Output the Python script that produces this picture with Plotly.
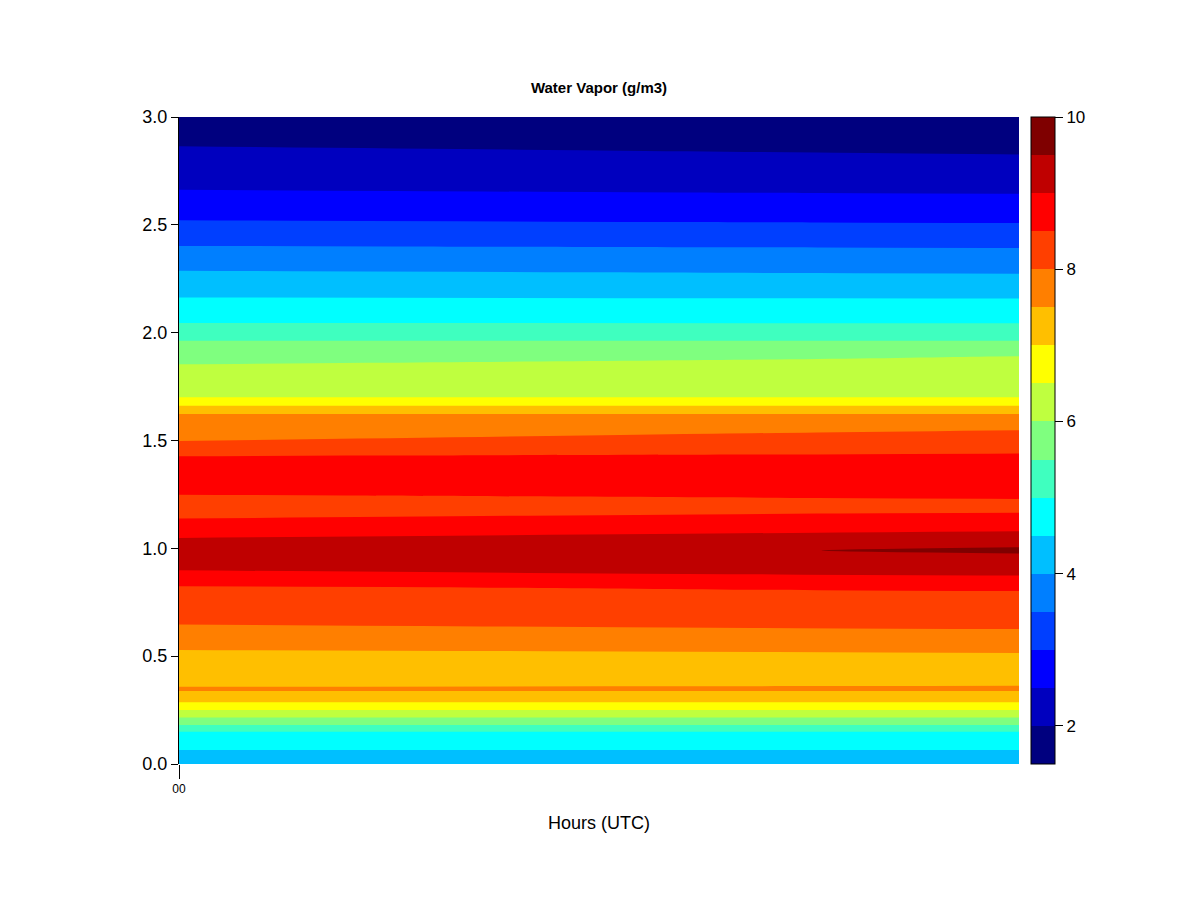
import plotly.graph_objects as go

# ---- data ----
hours = [0.0, 0.76, 1.0]          # relative time position (00 at left)
heights = [0.00, 0.065, 0.150, 0.181, 0.216, 0.250, 0.286, 0.338, 0.348, 0.360,
           0.44, 0.52, 0.63, 0.82, 0.88, 0.97, 0.99, 1.05, 1.14, 1.19,
           1.245, 1.34, 1.43, 1.50, 1.55, 1.623, 1.661, 1.700, 1.78, 1.86,
           1.89, 1.963, 2.045, 2.163, 2.28, 2.40, 2.513, 2.65, 2.845, 3.0]

vapor_start = [4.2, 4.5, 5.0, 5.5, 6.0, 6.5, 7.0, 7.5, 7.56, 7.49,
               7.2, 7.46, 7.955, 8.474, 8.90, 9.40, 9.38, 8.99, 8.49, 8.40,
               8.49, 8.80, 8.49, 7.98, 7.78, 7.5, 7.0, 6.5, 6.24, 5.977,
               5.84, 5.5, 5.0, 4.5, 4.03, 3.51, 3.03, 2.53, 2.05, 1.65]
vapor_mid = [4.2, 4.5, 5.0, 5.5, 6.0, 6.5, 7.0, 7.5, 7.56, 7.505,
             7.2, 7.506, 8.003, 8.54, 9.014, 9.442, 9.498, 9.142, 8.574, 8.40,
             8.528, 8.80, 8.528, 8.178, 7.94, 7.5, 7.0, 6.5, 6.278, 6.055,
             5.965, 5.5, 4.992, 4.485, 3.984, 3.48, 2.992, 2.492, 1.974, 1.612]
vapor_end = [4.2, 4.5, 5.0, 5.5, 6.0, 6.5, 7.0, 7.5, 7.56, 7.51,
             7.2, 7.52, 8.02, 8.55, 9.05, 9.455, 9.60, 9.19, 8.60, 8.40,
             8.54, 8.80, 8.54, 8.24, 7.99, 7.5, 7.0, 6.5, 6.29, 6.08,
             6.005, 5.5, 4.99, 4.48, 3.97, 3.47, 2.98, 2.48, 1.95, 1.60]

level_start, level_end, level_step = 1.5, 10.0, 0.5
band_colors = ["#00007F", "#0000BF", "#0000FF", "#003FFF", "#007FFF", "#00BFFF",
               "#00FFFF", "#3FFFBF", "#7FFF7F", "#BFFF3F", "#FFFF00", "#FFBF00",
               "#FF7F00", "#FF3F00", "#FF0000", "#BF0000", "#7F0000"]
cbar_ticks = [2, 4, 6, 8, 10]
ytick_vals = [0.0, 0.5, 1.0, 1.5, 2.0, 2.5, 3.0]
xtick_vals = [0.0]
xtick_text = ["00"]

# ---- build figure ----
z = [[a, b, c] for a, b, c in zip(vapor_start, vapor_mid, vapor_end)]

n = len(band_colors)
colorscale = []
for k, col in enumerate(band_colors):
    colorscale.append([k / n, col])
    colorscale.append([(k + 1) / n, col])

PAGE_OFF = 8                      # browser body margin
W, H = 1200 - 2 * PAGE_OFF, 900 - 2 * PAGE_OFF
plot_w, plot_h = 840, 647
L = 179 - PAGE_OFF
T = 117 - PAGE_OFF
R = W - L - plot_w
B = H - T - plot_h
cb_x = (1031 - 179) / plot_w
cb_thick = 24

fig = go.Figure(go.Contour(
    x=hours, y=heights, z=z,
    zmin=level_start, zmax=level_end,
    colorscale=colorscale,
    contours=dict(start=level_start, end=level_end, size=level_step,
                  coloring="fill", showlines=False),
    line=dict(width=0),
    hoverinfo="skip",
    colorbar=dict(x=cb_x, xanchor="left", xpad=0, y=0.5, yanchor="middle",
                  len=1, lenmode="fraction", ypad=0,
                  thickness=cb_thick, thicknessmode="pixels",
                  outlinewidth=1, outlinecolor="black", borderwidth=0,
                  ticks="outside", ticklen=8, tickwidth=1, tickcolor="black",
                  tickprefix="\u00a0",
                  tickvals=cbar_ticks, tickfont=dict(size=17, color="black")),
))

# separators between colorbar bands
nlev = int(round((level_end - level_start) / level_step))
shapes = []
for i in range(1, nlev):
    lev = level_start + i * level_step
    yy = (lev - level_start) / (level_end - level_start)
    shapes.append(dict(type="line", xref="paper", yref="paper",
                       x0=cb_x, x1=cb_x + cb_thick / plot_w, y0=yy, y1=yy,
                       line=dict(color="black", width=1)))

fig.update_layout(
    width=W, height=H,
    margin=dict(l=L, r=R, t=T, b=B, pad=0),
    paper_bgcolor="white", plot_bgcolor="white",
    font=dict(family="Liberation Sans, Arial, sans-serif", color="black", size=16),
    title=dict(text="<b>Water Vapor (g/m3)</b>", x=0.5, xref="paper", xanchor="center",
               y=1 - (88 - PAGE_OFF) / H, yref="container", yanchor="middle",
               font=dict(size=15, color="black")),
    shapes=shapes,
    annotations=[dict(text="Hours (UTC)", xref="paper", yref="paper",
                      x=0.5, y=(764 - 823) / plot_h, xanchor="center",
                      yanchor="middle", showarrow=False,
                      font=dict(size=18, color="black"))],
    showlegend=False,
)
fig.update_xaxes(range=[hours[0], hours[-1]], tickvals=xtick_vals, ticktext=xtick_text,
                 ticks="outside", ticklen=14, tickwidth=1, tickcolor="black",
                 tickfont=dict(size=12, color="black"), showline=False, showgrid=False,
                 zeroline=False)
fig.update_yaxes(range=[0, 3], tickvals=ytick_vals, tickformat=".1f",
                 ticks="outside", ticklen=7, tickwidth=1, tickcolor="black",
                 showline=True, linecolor="black", linewidth=1,
                 showgrid=False, zeroline=False,
                 tickfont=dict(size=18, color="black"))

fig.write_html("out.html")
